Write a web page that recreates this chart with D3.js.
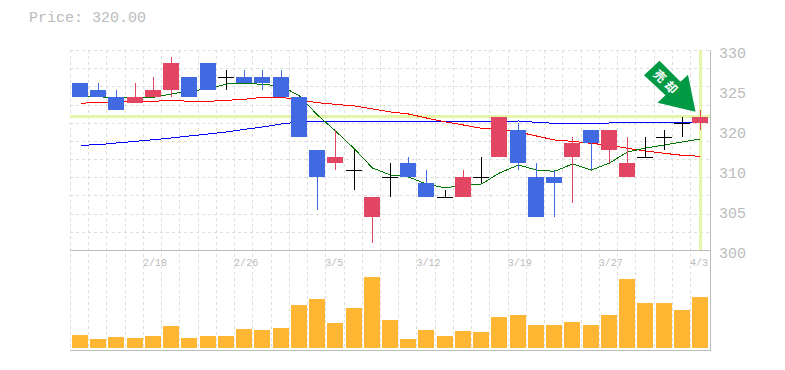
<!DOCTYPE html>
<html>
<head>
<meta charset="utf-8">
<script src="https://cdn.jsdelivr.net/npm/d3@7"></script>
<style>
    html, body { margin: 0; padding: 0; background: #fff; }
    svg { display: block; }
    text { fill: #bbb; font-family: "Liberation Mono", monospace; }
</style>
</head>
<body>
<div id="chart"></div>
<script>
const lastPrice = 320;
const priceLabel = "Price: 320.00";

const opens  = [325,324,323,322,323,324,326,328,326,326,326,326,323,315,313,312,305,311,313,310,308,308,311,314,318,311,311,314,318,315,311,314,317,319,319];
const highs  = [325,325,324,325,326,329,326,328,327,327,327,327,323,315,318,315,308,313,314,312,309,312,314,320,319,313,312,317,318,318,317,317,318,320,321];
const lows   = [323,323,321,322,323,323,323,324,324,325,324,323,317,306,312,309,301,308,311,308,308,308,310,314,312,305,305,307,312,313,311,314,315,317,318];
const closes = [323,323,321,323,324,328,323,324,326,325,325,323,317,311,314,312,308,311,311,308,308,311,311,320,313,305,310,316,316,318,313,314,317,319,320];

const volumes = [13,9,11,10,12,22,10,12,12,19,18,20,43,49,25,40,71,28,9,18,12,17,16,31,33,23,23,26,23,33,69,45,45,38,51];

const maShort = [323.1,323,322.8,322.95,322.9,323.4,323.85,324.15,324.9,325,324.85,324.6,323.1,320.25,317.85,315.15,312.3,311.25,310.95,309.9,309.3,309.75,309.9,311.55,312.75,312,311.8,312.9,312,313.05,314.7,315.3,315.75,316.2,316.65];
const maMid   = [322,322.15,322.2,322.3,322.3,322.45,322.3,322.3,322.45,322.6,322.9,322.9,322.5,322.1,321.85,321.6,321.15,320.7,320.4,319.8,319.2,318.75,318.25,318.15,317.7,317.1,316.5,316.3,316,315.7,315.25,314.85,314.5,314.2,314.05];
const maLong  = [315.7,315.8,316.05,316.3,316.55,316.8,317.1,317.4,317.7,318.1,318.45,318.9,319.2,319.25,319.25,319.25,319.25,319.25,319.25,319.25,319.25,319.25,319.25,319.3,319.35,319.15,319,319,319,319.05,319.15,319.15,319.15,319.15,319.15];

const dateTicks = ["2/18","2/26","3/5","3/12","3/19","3/27","4/3"];
const dateTickIdx = [4,9,14,19,24,29,34];
const priceTicks = [330,324,318,312,306,300];
const priceTickLabels = ["330","325","320","310","305","300"];

const chartWidth = 785, chartHeight = 370;
const plotLeft = 70, plotRight = 710, plotTop = 50, plotMid = 250, plotBottom = 350;
const bodyWidth = 16;
const barStep = 18.235;

const svg = d3.select("#chart").append("svg")
    .attr("width", chartWidth)
    .attr("height", chartHeight);

const idx = d3.range(opens.length);
const x = d3.scaleBand().domain(idx).range([plotLeft, plotLeft + barStep * idx.length]);
const y = d3.scaleLinear().domain([300, 330]).range([plotMid, plotTop]);
const yVol = d3.scaleLinear().domain([0, 100]).range([plotBottom - 2, plotMid - 2]);

// x of a candle's left edge / wick, kept on whole pixels like the original
const barLeft = i => Math.round(x(i) + 2);
const barMid = i => barLeft(i) + bodyWidth / 2 + 0.5;

// grid
const grid = svg.append("g")
    .attr("stroke", "#ddd")
    .attr("stroke-dasharray", "3,3")
    .attr("shape-rendering", "crispEdges");

grid.selectAll(".v").data(idx)
    .join("line")
    .attr("class", "v")
    .attr("x1", d => Math.round(x(d)) + 0.5)
    .attr("x2", d => Math.round(x(d)) + 0.5)
    .attr("y1", plotTop)
    .attr("y2", plotBottom);

grid.selectAll(".h").data(d3.range(12).map(i => 300 + i * 30 / 11))
    .join("line")
    .attr("class", "h")
    .attr("x1", plotLeft)
    .attr("x2", plotRight)
    .attr("y1", d => Math.round(y(d)) + 0.5)
    .attr("y2", d => Math.round(y(d)) + 0.5);

// frame
const frame = svg.append("g")
    .attr("stroke", "#bbb")
    .attr("shape-rendering", "crispEdges");
frame.append("line").attr("x1", plotLeft).attr("x2", plotRight + 1).attr("y1", plotMid + 0.5).attr("y2", plotMid + 0.5);
frame.append("line").attr("x1", plotLeft).attr("x2", plotRight + 1).attr("y1", plotBottom + 0.5).attr("y2", plotBottom + 0.5);
frame.append("line").attr("x1", plotRight + 0.5).attr("x2", plotRight + 0.5).attr("y1", plotTop).attr("y2", plotBottom + 1);

// current price cross
const cross = svg.append("g")
    .attr("stroke", "#e4f7a9")
    .attr("stroke-width", 3)
    .attr("shape-rendering", "crispEdges");
cross.append("line")
    .attr("x1", plotLeft).attr("x2", plotRight)
    .attr("y1", y(lastPrice)).attr("y2", y(lastPrice));
cross.append("line")
    .attr("x1", barMid(idx.length - 1)).attr("x2", barMid(idx.length - 1))
    .attr("y1", plotTop).attr("y2", plotMid);

// moving averages
const maLine = d3.line().x((d, i) => barMid(i)).y(d => y(d));
const maSeries = [[maLong, "#0000ff"], [maMid, "#ff0000"], [maShort, "#007700"]];
svg.append("g").selectAll("path").data(maSeries)
    .join("path")
    .attr("fill", "none")
    .attr("stroke", d => d[1])
    .attr("stroke-width", 1)
    .attr("shape-rendering", "crispEdges")
    .attr("d", d => maLine(d[0]));

// candles
const candleColor = i => closes[i] > opens[i] ? "#e34663" : closes[i] < opens[i] ? "#4169e1" : "#000";
const candles = svg.append("g").attr("shape-rendering", "crispEdges");

candles.selectAll(".wick").data(idx)
    .join("line")
    .attr("class", "wick")
    .attr("x1", barMid)
    .attr("x2", barMid)
    .attr("y1", d => y(highs[d]))
    .attr("y2", d => y(lows[d]))
    .attr("stroke", candleColor);

candles.selectAll(".body").data(idx.filter(d => opens[d] !== closes[d]))
    .join("rect")
    .attr("class", "body")
    .attr("x", barLeft)
    .attr("width", bodyWidth)
    .attr("y", d => Math.round(y(Math.max(opens[d], closes[d]))))
    .attr("height", d => Math.round(y(Math.min(opens[d], closes[d]))) - Math.round(y(Math.max(opens[d], closes[d]))))
    .attr("fill", candleColor);

candles.selectAll(".doji").data(idx.filter(d => opens[d] === closes[d]))
    .join("line")
    .attr("class", "doji")
    .attr("x1", barLeft)
    .attr("x2", d => barLeft(d) + bodyWidth)
    .attr("y1", d => Math.round(y(closes[d])) + 0.5)
    .attr("y2", d => Math.round(y(closes[d])) + 0.5)
    .attr("stroke", "#000");

// volume
svg.append("g").attr("shape-rendering", "crispEdges")
    .selectAll("rect").data(idx)
    .join("rect")
    .attr("x", barLeft)
    .attr("width", bodyWidth)
    .attr("y", d => yVol(volumes[d]))
    .attr("height", d => yVol(0) - yVol(volumes[d]))
    .attr("fill", "#ffb733");

// axes
const yAxis = svg.append("g")
    .attr("transform", `translate(${plotRight + 10},0)`)
    .call(d3.axisRight(y).tickValues(priceTicks).tickSize(0).tickPadding(0)
        .tickFormat((d, i) => priceTickLabels[i]));
yAxis.select(".domain").remove();
yAxis.selectAll("text")
    .attr("dy", 7)
    .attr("dx", -1)
    .style("font-size", "15px");

const xAxis = svg.append("g")
    .attr("transform", `translate(0,${plotMid})`)
    .call(d3.axisBottom(x).tickValues(dateTickIdx).tickSize(0).tickPadding(0)
        .tickFormat((d, i) => dateTicks[i]));
xAxis.select(".domain").remove();
xAxis.selectAll("text")
    .attr("text-anchor", "start")
    .attr("x", -x.bandwidth() / 2)
    .attr("y", 0)
    .attr("dy", 16)
    .style("font-size", "10px");

svg.append("text")
    .attr("x", 29)
    .attr("y", 22)
    .style("font-size", "15px")
    .text(priceLabel);

// sell arrow, hung off the last candle
const tipX = barMid(idx.length - 1) - 5, tipY = y(lastPrice) - 5;
const arrow = svg.append("g").attr("transform", `translate(${tipX},${tipY})`);
arrow.append("polygon")
    .attr("points", [[-36,-51],[-51.5,-36.5],[-30,-16.5],[-38,-9],[0,0],[-7.5,-37],[-15,-30]].join(" "))
    .attr("fill", "#009944");
arrow.append("text")
    .attr("transform", "translate(-28.5,-28.5) rotate(45)")
    .attr("text-anchor", "middle")
    .attr("dy", 4.5)
    .style("fill", "#fff")
    .style("font-family", '"Noto Sans CJK JP"')
    .style("font-weight", "bold")
    .style("font-size", "12px")
    .style("letter-spacing", "4px")
    .text("売却");
</script>
</body>
</html>
